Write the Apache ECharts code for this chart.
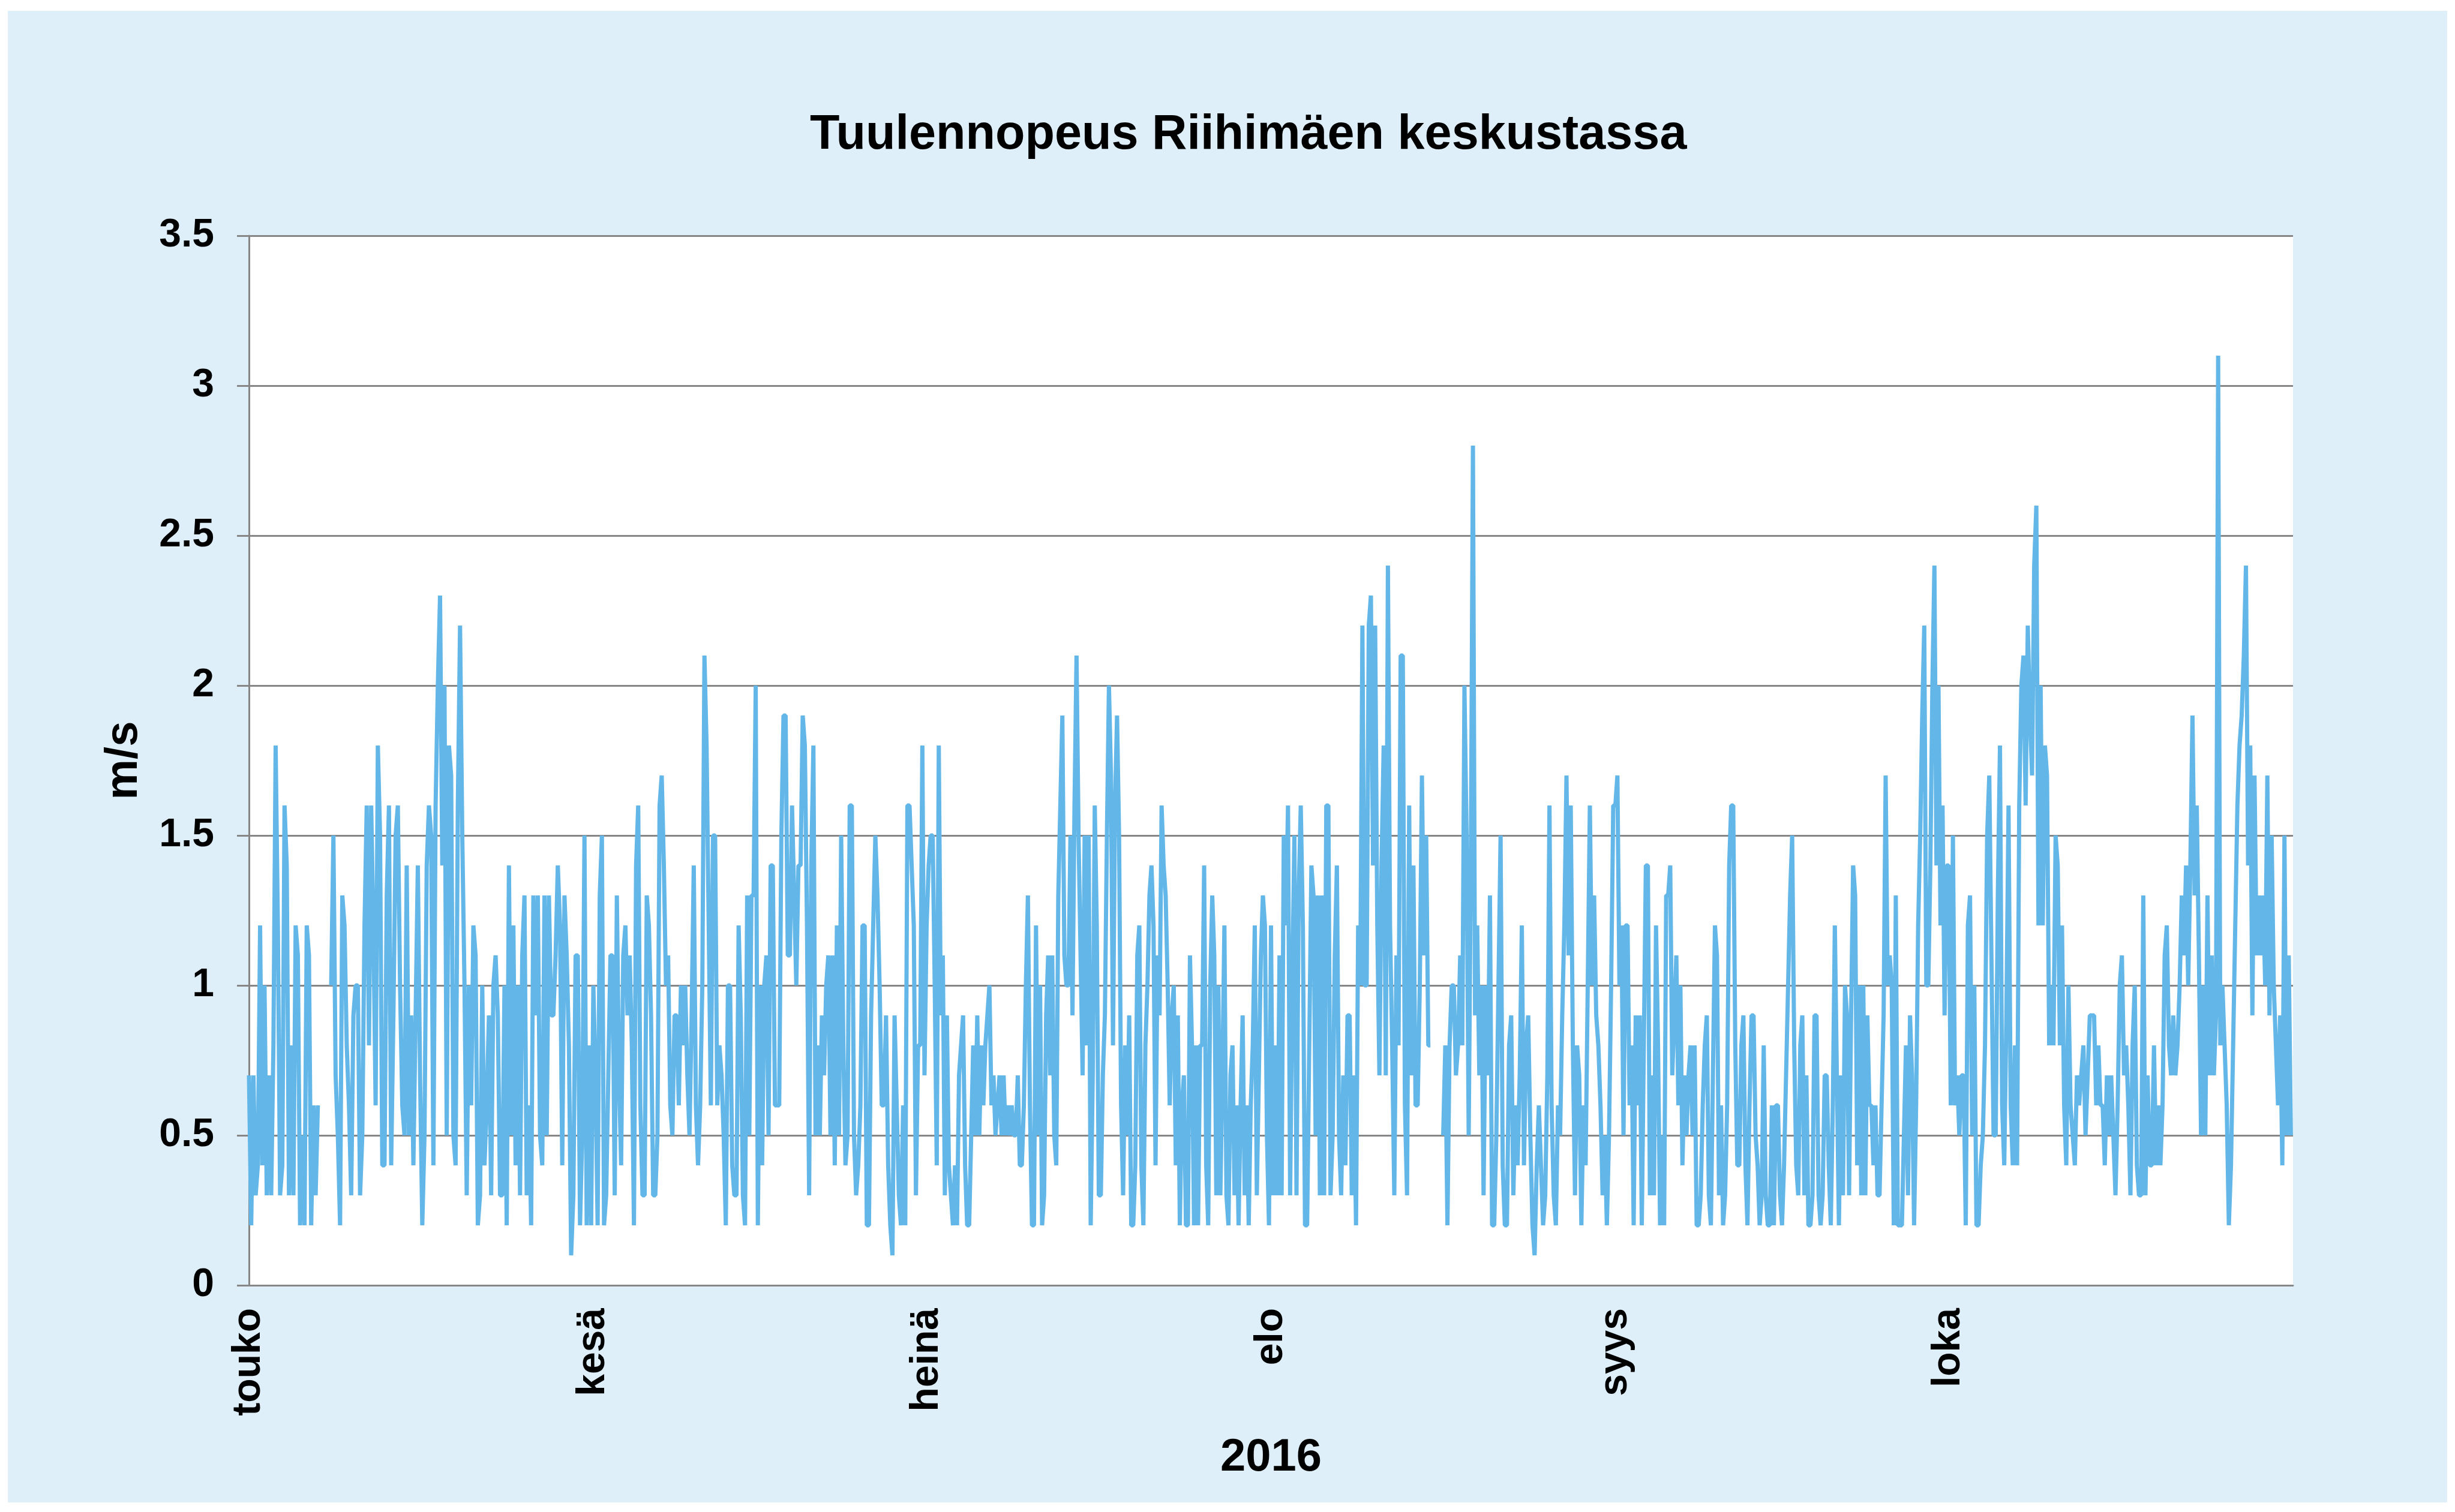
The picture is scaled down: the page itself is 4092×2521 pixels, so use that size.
<!DOCTYPE html>
<html>
<head>
<meta charset="utf-8">
<title>Tuulennopeus Riihimäen keskustassa</title>
<script src="https://cdn.jsdelivr.net/npm/echarts@6/dist/echarts.min.js"></script>
<style>
  html, body { margin: 0; padding: 0; background: #ffffff; }
  #panel { position: absolute; left: 13px; top: 18px; width: 4066px; height: 2487px; background: #deeffa; }
  #main { position: absolute; left: 0; top: 0; width: 4092px; height: 2521px; }
</style>
</head>
<body>
<div id="panel"></div>
<div id="main"></div>
<script>
// kuukausien nimet x-akselille
const monthNames = ["touko", "kesä", "heinä", "elo", "syys", "loka"];

// tuulennopeus m/s, luettu kuvasta, tasavälein kunkin kuukauden sisällä (null = puuttuva tieto)
const touko = [0.7, 0.2, 0.7, 0.3, 0.4, 1.2, 0.4, 1.0, 0.3, 0.7, 0.3, 0.8, 1.8, 1.2, 0.3, 0.4, 1.6, 1.4, 0.3, 0.8,
  0.3, 1.2, 1.1, 0.2, 0.5, 0.2, 1.2, 1.1, 0.2, 0.6, 0.3, 0.6, null, null, null, null, null,
  1.0, 1.5, 0.7, 0.5, 0.2, 1.3, 1.2, 0.8, 0.6, 0.3, 0.9, 1.0, 1.0, 0.3, 0.5, 1.2, 1.6, 0.8, 1.6, 1.2,
  0.6, 1.8, 1.5, 0.4, 0.4, 1.3, 1.6, 0.4, 0.9, 1.5, 1.6, 1.0, 0.6, 0.5, 1.4, 0.5, 0.9, 0.4, 0.9, 1.4,
  0.7, 0.2, 0.5, 1.4, 1.6, 1.5, 0.4, 1.6, 2.0, 2.3, 1.4, 2.0, 0.5, 1.8, 1.7, 0.5, 0.4, 1.6, 2.2, 1.5,
  1.0, 0.3, 1.0, 0.6, 1.2, 1.1, 0.2, 0.3, 1.0, 0.4, 0.6, 0.9, 0.3, 1.0, 1.1, 0.9, 0.3, 0.3, 1.0, 0.2,
  1.4, 0.5, 1.2, 0.4, 1.0, 0.3, 1.1, 1.3, 0.3, 0.6, 0.2, 1.3, 0.9, 1.3, 0.5, 0.4, 1.3, 0.5, 1.3, 0.9,
  0.9, 1.1, 1.4, 1.2, 0.4, 1.3, 1.1, 0.8, 0.1, 0.3, 1.1, 1.1, 0.2, 0.5, 1.5, 0.2, 0.8, 0.2];

const kesa = [1.0, 0.7, 0.2, 1.3, 1.5, 0.2, 0.3, 0.7, 1.1, 1.1, 0.3, 1.3, 0.7, 0.4, 1.1, 1.2, 0.9, 1.1, 0.8, 0.2,
  1.4, 1.6, 0.6, 0.3, 0.3, 1.3, 1.2, 0.9, 0.3, 0.3, 0.5, 1.6, 1.7, 1.4, 1.0, 1.1, 0.6, 0.5, 0.9, 0.9,
  0.6, 1.0, 0.8, 1.0, 0.7, 0.5, 0.9, 1.4, 0.6, 0.4, 0.6, 1.0, 2.1, 1.8, 1.2, 0.6, 1.5, 1.5, 0.6, 0.8,
  0.7, 0.5, 0.2, 1.0, 1.0, 0.4, 0.3, 0.3, 1.2, 0.9, 0.3, 0.2, 1.3, 0.5, 1.3, 1.3, 2.0, 0.2, 1.0, 0.4,
  1.0, 1.1, 0.5, 1.4, 1.4, 0.6, 0.6, 0.6, 1.5, 1.9, 1.9, 1.1, 1.1, 1.6, 1.3, 1.0, 1.4, 1.4, 1.9, 1.8,
  1.2, 0.3, 1.4, 1.8, 0.5, 0.8, 0.5, 0.9, 0.7, 1.0, 1.1, 0.5, 1.1, 0.4, 1.2, 0.5, 1.5, 0.8, 0.4, 0.5,
  1.6, 1.6, 0.5, 0.3, 0.4, 0.6, 1.2, 1.2, 0.2, 0.2, 0.9, 1.2, 1.5, 1.3, 1.0, 0.6, 0.6, 0.9, 0.4, 0.2,
  0.1, 0.9, 0.6, 0.3, 0.2, 0.6, 0.2, 1.6, 1.6, 1.4, 1.2, 0.3, 0.8, 0.8, 1.8, 0.7];

const heina = [1.2, 1.4, 1.5, 1.5, 1.0, 0.4, 1.8, 0.9, 1.1, 0.3, 0.9, 0.4, 0.3, 0.2,
  0.4, 0.2, 0.7, 0.8, 0.9, 0.4, 0.2, 0.2, 0.5, 0.8, 0.5, 0.9, 0.5, 0.8, 0.6, 0.8, 0.9, 1.0, 0.6, 0.7,
  0.5, 0.6, 0.7, 0.5, 0.7, 0.5, 0.6, 0.5, 0.6, 0.5, 0.5, 0.7, 0.4, 0.4, 0.6, 1.0, 1.3, 0.6, 0.2, 0.2,
  1.2, 0.5, 1.0, 0.2, 0.3, 0.9, 1.1, 0.7, 1.1, 0.5, 0.4, 1.3, 1.6, 1.9, 1.1, 1.0, 1.0, 1.5, 0.9, 1.6,
  2.1, 1.5, 1.1, 0.7, 1.5, 0.8, 1.5, 0.2, 0.7, 1.6, 1.2, 0.3, 0.3, 0.7, 0.9, 1.5, 2.0, 1.7, 0.8, 1.6,
  1.9, 1.5, 0.6, 0.3, 0.8, 0.5, 0.9, 0.2, 0.2, 0.4, 1.1, 1.2, 0.4, 0.2, 0.8, 1.0, 1.3, 1.4, 1.2, 0.4,
  1.1, 0.9, 1.6, 1.4, 1.3, 1.0, 0.6, 0.9, 1.0, 0.4, 0.9, 0.2, 0.6, 0.7, 0.2, 0.2, 1.1, 0.8, 0.2, 0.8,
  0.2, 0.8, 0.8, 1.4, 0.4, 0.2, 1.0, 1.3, 1.1, 0.3, 1.0, 0.3, 0.7, 1.2, 0.3, 0.2, 0.7, 0.8, 0.3, 0.6,
  0.2, 0.6, 0.9, 0.3, 0.6, 0.2, 0.6, 0.8, 1.2, 0.3, 0.7, 1.1, 1.3, 1.2, 0.5, 0.2];

const elo = [1.2, 0.3, 0.8, 0.3, 1.1, 0.3, 1.5, 1.2, 1.6, 0.3, 1.0, 1.5, 0.3, 1.3, 1.6, 1.2, 0.2, 0.2, 0.8, 1.4,
  1.3, 0.5, 1.3, 0.3,
  1.3, 0.3, 1.6, 1.6, 0.3, 0.5, 1.1, 1.4, 0.5, 0.3, 0.7, 0.4, 0.9, 0.9, 0.3, 0.7, 0.2, 1.2, 1.0, 2.2,
  1.0, 1.0, 2.2, 2.3, 1.4, 2.2, 1.2, 0.7, 1.4, 1.8, 0.7, 2.4, 1.2, 0.8, 0.3, 1.1, 0.8, 2.1, 2.1, 0.6,
  0.3, 1.6, 0.7, 1.4, 0.6, 0.6, 1.0, 1.7, 1.1, 1.5, 0.8, 0.8, null, null, null, null, null,
  0.5, 0.8, 0.2, 0.8, 1.0, 1.0, 0.7, 0.8, 1.1, 0.8, 2.0, 1.5, 0.5, 1.4, 2.8, 0.9, 1.2, 0.7, 1.0, 0.3,
  1.0, 0.7, 1.3, 0.2, 0.2, 0.5, 1.0, 1.5, 0.4, 0.2, 0.2, 0.8, 0.9, 0.3, 0.6, 0.4, 0.7, 1.2, 0.4, 0.8,
  0.9, 0.5, 0.2, 0.1, 0.4, 0.6, 0.4, 0.2, 0.3, 0.7, 1.6, 0.6, 0.3, 0.2, 0.6, 0.5, 0.9, 1.2, 1.7, 1.1,
  1.6, 0.8, 0.3, 0.8, 0.7, 0.2, 0.6, 0.4, 1.0, 1.6, 1.0, 1.3, 0.9, 0.8, 0.6, 0.3, 0.5, 0.2, 0.5, 1.0,
  1.6];

const syys = [1.6, 1.7, 1.0, 1.2, 0.5, 1.2, 1.2, 0.6, 0.8, 0.2, 0.9, 0.6, 0.9, 0.2, 0.8, 1.4, 1.4, 0.3, 0.7, 0.3,
  1.2, 0.8, 0.2, 0.5, 0.2, 1.3, 1.3,
  1.4, 0.7, 0.9, 1.1, 0.6, 1.0, 0.4, 0.7, 0.5, 0.7, 0.8, 0.5, 0.8, 0.2, 0.2, 0.3, 0.6, 0.8, 0.9, 0.3,
  0.2, 0.7, 1.2, 1.1, 0.3, 0.6, 0.2, 0.3, 0.6, 1.4, 1.6, 1.6, 0.8, 0.4, 0.4, 0.8, 0.9, 0.4, 0.2, 0.6,
  0.9, 0.9, 0.5, 0.4, 0.2, 0.3, 0.8, 0.3, 0.2, 0.2, 0.6, 0.2, 0.6, 0.6, 0.3, 0.2, 0.4, 0.7, 1.0, 1.3,
  1.5, 0.8, 0.4, 0.3, 0.8, 0.9, 0.3, 0.7, 0.2, 0.2, 0.3, 0.9, 0.9, 0.3, 0.2, 0.3, 0.7, 0.7, 0.4, 0.2,
  0.6, 1.2, 0.7, 0.2, 0.7, 0.3, 1.0, 0.9, 0.3, 0.9, 1.4, 1.3, 0.4, 1.0, 0.3, 1.0, 0.3, 0.9, 0.6, 0.6,
  0.4, 0.6, 0.3, 0.3, 0.6, 0.9, 1.7, 1.0, 1.1, 1.0, 0.2, 1.3, 0.2, 0.2, 0.2, 0.5, 0.8, 0.3, 0.9, 0.7,
  0.2, 0.6, 1.2, 1.5, 1.9, 2.2, 1.0, 1.0, 1.4, 2.0, 2.4, 1.4, 2.0, 1.2, 1.6, 0.9, 1.4];

const loka = [1.4, 0.6, 1.5, 0.6, 0.7, 0.5, 0.7, 0.7, 0.2, 1.2, 1.3, 0.5, 1.0, 0.2,
  0.2, 0.4, 0.5, 0.8, 1.5, 1.7, 1.1, 0.5, 0.5, 1.3, 1.8, 0.6, 0.4, 0.9, 1.6, 0.6, 0.4, 0.8, 0.4, 1.6,
  2.0, 2.1, 1.6, 2.2, 1.9, 1.7, 2.4, 2.6, 1.2, 2.0, 1.2, 1.8, 1.7, 0.8, 1.0, 0.8, 1.5, 1.4, 0.8, 1.2,
  0.6, 0.4, 1.0, 0.6, 0.5, 0.4, 0.7, 0.6, 0.7, 0.8, 0.5, 0.7, 0.9, 0.9, 0.9, 0.6, 0.8, 0.6, 0.6, 0.4,
  0.7, 0.5, 0.7, 0.5, 0.3, 0.6, 1.0, 1.1, 0.7, 0.8, 0.6, 0.3, 0.8, 1.0, 0.4, 0.3, 0.3, 1.3, 0.3, 0.7,
  0.4, 0.4, 0.8, 0.4, 0.6, 0.4, 0.6, 1.1, 1.2, 0.8, 0.7, 0.9, 0.7, 0.8, 1.0, 1.3, 1.1, 1.4, 1.0, 1.4,
  1.9, 1.3, 1.6, 1.1, 0.5, 1.0, 0.5, 1.3, 0.7, 1.1, 0.7, 0.9, 3.1, 0.8, 1.0, 0.8, 0.6, 0.2, 0.4, 0.8,
  1.2, 1.6, 1.8, 1.9, 2.1, 2.4, 1.4, 1.8, 0.9, 1.7, 1.1, 1.3, 1.1, 1.3, 1.0, 1.7, 0.9, 1.5, 1.0, 0.8,
  0.6, 0.9, 0.4, 1.5, 0.5, 1.1, 0.5];

const yTicks = [0, 0.5, 1, 1.5, 2, 2.5, 3, 3.5];

// kootaan [aika, arvo] -parit: kunkin kuukauden arvot jaetaan tasaisesti kuukauden ajalle
const months = [touko, kesa, heina, elo, syys, loka];
const data = [];
months.forEach(function (vals, m) {
  const start = new Date(2016, 4 + m, 1).getTime();
  const end = new Date(2016, 5 + m, 1).getTime();
  const step = (end - start) / vals.length;
  vals.forEach(function (v, i) {
    data.push([start + i * step, v]);
  });
});

const DAY = 24 * 3600 * 1000;
const font = "'Liberation Sans', Arial, sans-serif";
const grey = "#868686";

const myChart = echarts.init(document.getElementById("main"), null, { renderer: "canvas" });

const option = {
  animation: false,
  backgroundColor: "transparent",
  title: {
    text: "Tuulennopeus Riihimäen keskustassa",
    left: 1345,
    top: 180,
    textStyle: { fontFamily: font, fontSize: 81, fontWeight: "bold", color: "#000" }
  },
  grid: {
    left: 415,
    right: 270,
    top: 393,
    bottom: 378,
    show: true,
    backgroundColor: "#ffffff",
    borderWidth: 0
  },
  xAxis: {
    type: "time",
    min: new Date(2016, 4, 1).getTime(),
    max: new Date(2016, 10, 1).getTime(),
    minInterval: 28 * DAY,
    maxInterval: 31 * DAY,
    name: "2016",
    nameLocation: "middle",
    nameGap: 250,
    nameTextStyle: { fontFamily: font, fontSize: 76, fontWeight: "bold", color: "#000" },
    axisLine: { lineStyle: { color: grey, width: 3 } },
    axisTick: { show: false },
    splitLine: { show: false },
    axisLabel: {
      rotate: 90,
      margin: 38,
      fontFamily: font,
      fontSize: 66,
      fontWeight: "bold",
      color: "#000",
      hideOverlap: false,
      formatter: function (value) {
        const m = new Date(value).getMonth() - 4;
        return m >= 0 && m < monthNames.length ? monthNames[m] : "";
      }
    }
  },
  yAxis: {
    type: "value",
    min: yTicks[0],
    max: yTicks[yTicks.length - 1],
    interval: 0.5,
    name: "m/s",
    nameLocation: "middle",
    nameRotate: 90,
    nameGap: 170,
    nameTextStyle: { fontFamily: font, fontSize: 76, fontWeight: "bold", color: "#000" },
    axisLine: { show: true, lineStyle: { color: grey, width: 3 } },
    axisTick: { show: true, length: 20, lineStyle: { color: grey, width: 3 } },
    splitLine: { lineStyle: { color: grey, width: 3 } },
    axisLabel: {
      margin: 58,
      fontFamily: font,
      fontSize: 66,
      fontWeight: "bold",
      color: "#000"
    }
  },
  series: [
    {
      name: "Tuulennopeus",
      type: "line",
      data: data,
      showSymbol: false,
      connectNulls: false,
      sampling: null,
      lineStyle: { color: "#63b7e8", width: 7 },
      itemStyle: { color: "#63b7e8" }
    }
  ]
};

myChart.setOption(option);
</script>
</body>
</html>
